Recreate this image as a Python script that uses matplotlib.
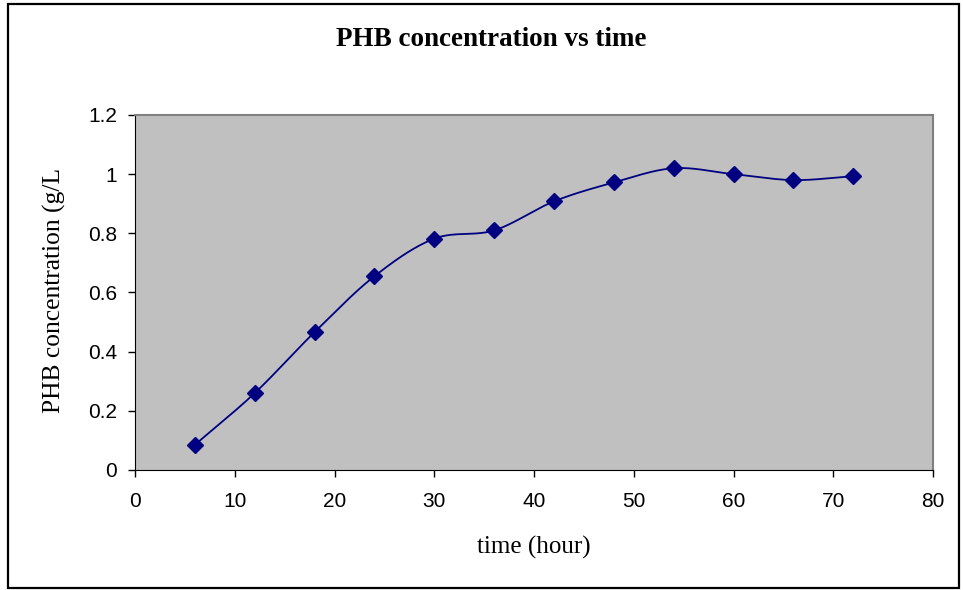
import numpy as np
import matplotlib
matplotlib.use("Agg")
import matplotlib.pyplot as plt
from matplotlib.patches import Rectangle

# 数据
time_h = [6, 12, 18, 24, 30, 36, 42, 48, 54, 60, 66, 72]
phb = [0.085, 0.26, 0.466, 0.655, 0.782, 0.81, 0.908, 0.972, 1.02, 1.0, 0.98, 0.993]
x_ticks = [0, 10, 20, 30, 40, 50, 60, 70, 80]
y_ticks = [0, 0.2, 0.4, 0.6, 0.8, 1.0, 1.2]
y_labels = ["0", "0.2", "0.4", "0.6", "0.8", "1", "1.2"]

navy = "#000080"


def smooth_curve(x, y, n=30):
    """类似Excel的平滑线 (Catmull-Rom 样条)"""
    x = np.asarray(x, float)
    y = np.asarray(y, float)
    px = np.concatenate([[2 * x[0] - x[1]], x, [2 * x[-1] - x[-2]]])
    py = np.concatenate([[2 * y[0] - y[1]], y, [2 * y[-1] - y[-2]]])
    t = np.linspace(0, 1, n)
    xs, ys = [], []
    for i in range(1, len(px) - 2):
        for arr, out in ((px, xs), (py, ys)):
            p0, p1, p2, p3 = arr[i - 1], arr[i], arr[i + 1], arr[i + 2]
            out.append(0.5 * ((2 * p1) + (-p0 + p2) * t
                              + (2 * p0 - 5 * p1 + 4 * p2 - p3) * t ** 2
                              + (-p0 + 3 * p1 - 3 * p2 + p3) * t ** 3))
    return np.concatenate(xs), np.concatenate(ys)


fig = plt.figure(figsize=(9.63, 5.90), dpi=100)
ax = fig.add_axes([0.1402, 0.2034, 0.8287, 0.6017])
ax.set_facecolor("#c0c0c0")

sx, sy = smooth_curve(time_h, phb)
ax.plot(sx, sy, color=navy, lw=1.3)
ax.plot(time_h, phb, linestyle="none", marker="D", color=navy, markersize=8)

ax.set_xlim(0, 80)
ax.set_ylim(0, 1.2)
ax.set_xticks(x_ticks)
ax.set_yticks(y_ticks)
ax.set_yticklabels(y_labels)
ax.tick_params(direction="out", length=5, width=1, labelsize=15)
ax.tick_params(axis="x", pad=11)
ax.tick_params(axis="y", pad=8)
for lab in ax.get_xticklabels() + ax.get_yticklabels():
    lab.set_fontfamily("Liberation Sans")

for side in ("left", "bottom"):
    ax.spines[side].set_color("black")
for side in ("top", "right"):
    ax.spines[side].set_color("#808080")
    ax.spines[side].set_linewidth(1.5)

# 轴标题 (位置按原图手动放)
fig.text(534 / 963, 1 - 547 / 590, "time (hour)", ha="center", va="center",
         fontfamily="Liberation Serif", fontsize=18)
fig.text(54 / 963, 1 - 290 / 590, "PHB concentration (g/L", ha="center", va="center",
         rotation=90, fontfamily="Liberation Serif", fontsize=18.4)

fig.text(491 / 963, 1 - 40 / 590, "PHB concentration vs time", ha="center", va="center",
         fontfamily="Liberation Serif", fontweight="bold", fontsize=19.5)

# 外框
fig.patches.append(Rectangle((0.008, 0.003), 0.988, 0.99, transform=fig.transFigure,
                             fill=False, edgecolor="black", lw=1.6))

fig.savefig("out.png", dpi=100)
